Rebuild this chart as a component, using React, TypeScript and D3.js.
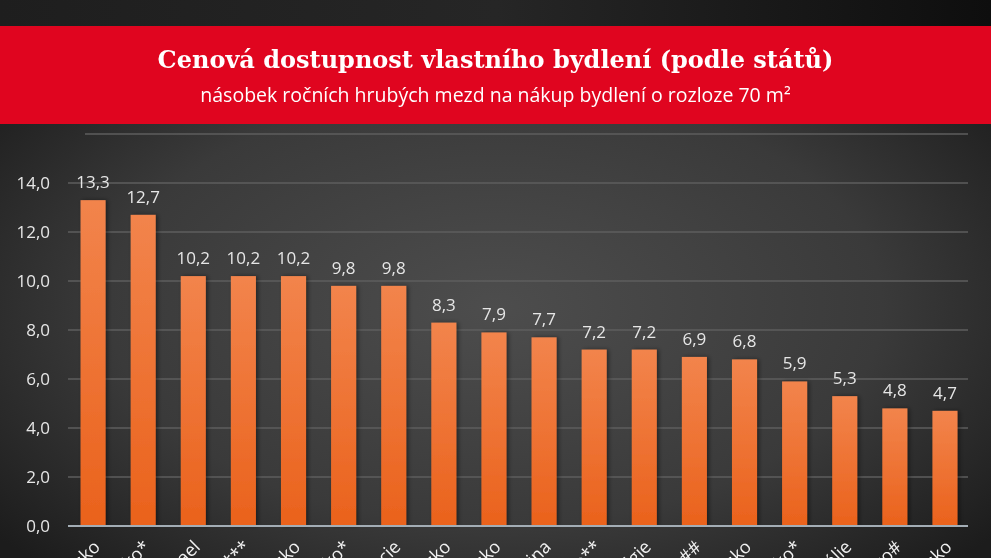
import React, { useEffect, useRef } from 'react';
import * as d3 from 'd3';

// Data (country labels are cut off at the bottom edge)
const countries = [
  'Česko', 'Srbsko*', 'Izrael', 'Slovensko***', 'Rakousko', 'Maďarsko*',
  'Francie', 'Německo', 'Polsko', 'Ukrajina', 'Dánsko**', 'Belgie',
  'Nizozemsko##', 'Portugalsko', 'Irsko*', 'Itálie', 'Španělsko#', 'Norsko',
];
const values = [13.3, 12.7, 10.2, 10.2, 10.2, 9.8, 9.8, 8.3, 7.9, 7.7, 7.2, 7.2, 6.9, 6.8, 5.9, 5.3, 4.8, 4.7];
const gridValues = [0, 2, 4, 6, 8, 10, 12, 14, 16];
const tickLabels = [0, 2, 4, 6, 8, 10, 12, 14];

const title = 'Cenová dostupnost vlastního bydlení (podle států)';
const subtitle = 'násobek ročních hrubých mezd na nákup bydlení o rozloze 70 m²';

const App: React.FC = () => {
  const svgRef = useRef<SVGSVGElement>(null);

  useEffect(() => {
    if (!svgRef.current) return;
    const svg = d3.select(svgRef.current);
    svg.selectAll('*').remove();

    const width = 991;
    const height = 558;
    const margin = { left: 68, right: 21, top: 134, bottom: 32 };
    const sansFont = '"Open Sans", sans-serif';

    const defs = svg.append('defs');

    // background: lighter in the middle, dark at the edges
    const bg = defs.append('radialGradient')
      .attr('id', 'bgGrad')
      .attr('cx', '50%').attr('cy', '55%').attr('r', '65%');
    bg.append('stop').attr('offset', '0%').attr('stop-color', '#4d4d4d');
    bg.append('stop').attr('offset', '60%').attr('stop-color', '#3a3a3a');
    bg.append('stop').attr('offset', '100%').attr('stop-color', '#1c1c1c');

    const topGrad = defs.append('linearGradient')
      .attr('id', 'topGrad')
      .attr('x1', '0').attr('y1', '0').attr('x2', '1').attr('y2', '0');
    topGrad.append('stop').attr('offset', '0%').attr('stop-color', '#1e1e1e');
    topGrad.append('stop').attr('offset', '50%').attr('stop-color', '#262626');
    topGrad.append('stop').attr('offset', '100%').attr('stop-color', '#0e0e0e');

    const barGrad = defs.append('linearGradient')
      .attr('id', 'barGrad')
      .attr('x1', '0').attr('y1', '0').attr('x2', '0').attr('y2', '1');
    barGrad.append('stop').attr('offset', '0%').attr('stop-color', '#f2844c');
    barGrad.append('stop').attr('offset', '100%').attr('stop-color', '#ea621c');

    const shadow = defs.append('filter').attr('id', 'barShadow')
      .attr('x', '-30%').attr('y', '-10%').attr('width', '160%').attr('height', '120%');
    shadow.append('feDropShadow')
      .attr('dx', 2).attr('dy', 0).attr('stdDeviation', 2)
      .attr('flood-color', '#000').attr('flood-opacity', 0.45);

    svg.append('rect').attr('width', width).attr('height', height).attr('fill', 'url(#bgGrad)');
    svg.append('rect').attr('width', width).attr('height', 26).attr('fill', 'url(#topGrad)');

    // header band
    svg.append('rect')
      .attr('x', 0).attr('y', 26).attr('width', width).attr('height', 98)
      .attr('fill', '#e0051f');
    svg.append('text')
      .attr('x', width / 2).attr('y', 68)
      .attr('text-anchor', 'middle')
      .attr('fill', '#ffffff')
      .attr('font-family', '"DejaVu Serif", serif')
      .attr('font-weight', 'bold')
      .attr('font-size', 24)
      .text(title);
    svg.append('text')
      .attr('x', width / 2).attr('y', 102)
      .attr('text-anchor', 'middle')
      .attr('fill', '#ffffff')
      .attr('font-family', sansFont)
      .attr('font-size', 19.5)
      .text(subtitle);

    const x = d3.scaleBand<string>()
      .domain(countries)
      .range([margin.left, width - margin.right])
      .paddingInner(0.5)
      .paddingOuter(0.25);

    const y = d3.scaleLinear()
      .domain([0, 16])
      .range([height - margin.bottom, margin.top]);

    // gridlines
    svg.append('g')
      .selectAll('line')
      .data(gridValues.filter(d => d > 0))
      .enter().append('line')
      .attr('x1', d => (d === 16 ? 85 : margin.left))
      .attr('x2', width - margin.right - 2)
      .attr('y1', d => y(d))
      .attr('y2', d => y(d))
      .attr('stroke', '#5e5e5e')
      .attr('stroke-width', 1.5);

    // y tick labels
    svg.append('g')
      .selectAll('text')
      .data(tickLabels)
      .enter().append('text')
      .attr('x', 50)
      .attr('y', d => y(d) + 6)
      .attr('text-anchor', 'end')
      .attr('fill', '#e6e6e6')
      .attr('font-family', sansFont)
      .attr('font-size', 17)
      .text(d => d3.format('.1f')(d).replace('.', ','));

    const rows = countries.map((c, i) => ({ c, v: values[i] }));

    // bars
    svg.append('g')
      .selectAll('rect')
      .data(rows)
      .enter().append('rect')
      .attr('x', d => x(d.c) as number)
      .attr('y', d => y(d.v))
      .attr('width', x.bandwidth())
      .attr('height', d => y(0) - y(d.v))
      .attr('fill', 'url(#barGrad)')
      .attr('filter', 'url(#barShadow)');

    // baseline
    svg.append('line')
      .attr('x1', margin.left).attr('x2', width - margin.right - 2)
      .attr('y1', y(0)).attr('y2', y(0))
      .attr('stroke', '#a3adb5')
      .attr('stroke-width', 2);

    // value labels
    svg.append('g')
      .selectAll('text')
      .data(rows)
      .enter().append('text')
      .attr('x', d => (x(d.c) as number) + x.bandwidth() / 2)
      .attr('y', d => y(d.v) - 12)
      .attr('text-anchor', 'middle')
      .attr('fill', '#e6e6e6')
      .attr('font-family', sansFont)
      .attr('font-size', 17)
      .text(d => d3.format('.1f')(d.v).replace('.', ','));

    // rotated category labels (mostly outside the picture, as in the original)
    svg.append('g')
      .selectAll('text')
      .data(rows)
      .enter().append('text')
      .attr('transform', d => `translate(${(x(d.c) as number) + x.bandwidth() / 2 + 8},${y(0) + 22}) rotate(-45)`)
      .attr('text-anchor', 'end')
      .attr('fill', '#f0f0f0')
      .attr('font-family', sansFont)
      .attr('font-size', 18)
      .text(d => d.c);
  }, []);

  return (
    <svg
      ref={svgRef}
      width={991}
      height={558}
      viewBox="0 0 991 558"
      style={{ position: 'fixed', left: 0, top: 0, display: 'block' }}
    />
  );
};

export default App;
